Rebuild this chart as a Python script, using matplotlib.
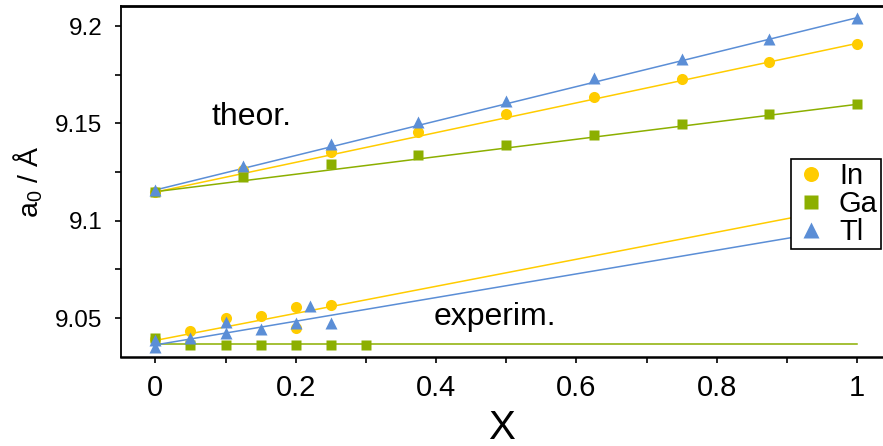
import numpy as np
import matplotlib
matplotlib.use("Agg")
import matplotlib.pyplot as plt
from matplotlib.ticker import MultipleLocator

plt.rcParams['font.family'] = ['Liberation Sans', 'DejaVu Sans']

# ---- data ----
x_theor = [0, 0.125, 0.25, 0.375, 0.5, 0.625, 0.75, 0.875, 1.0]
in_theor = [9.1147, 9.1260, 9.1354, 9.1454, 9.1546, 9.1637, 9.1726, 9.1817, 9.1909]
ga_theor = [9.1149, 9.1226, 9.1290, 9.1337, 9.1387, 9.1442, 9.1495, 9.1546, 9.1598]
tl_theor = [9.1158, 9.1282, 9.1392, 9.1505, 9.1615, 9.1731, 9.1829, 9.1932, 9.2044]

line_x = [0.0, 1.0]
in_theor_line = [9.1147, 9.1911]
ga_theor_line = [9.1149, 9.1598]
tl_theor_line = [9.1158, 9.2043]

in_exp_x = [0.0, 0.05, 0.1, 0.15, 0.2, 0.2, 0.25]
in_exp = [9.0390, 9.0433, 9.0498, 9.0509, 9.0558, 9.0447, 9.0565]
ga_exp_x = [0.0, 0.05, 0.1, 0.15, 0.2, 0.25, 0.3]
ga_exp = [9.0396, 9.0362, 9.0362, 9.0364, 9.0364, 9.0364, 9.0364]
tl_exp_x = [0.0, 0.0, 0.05, 0.1, 0.1, 0.15, 0.2, 0.22, 0.25]
tl_exp = [9.0387, 9.0353, 9.0396, 9.0481, 9.0421, 9.0443, 9.0473, 9.0563, 9.0473]

in_exp_line = [9.0385, 9.1080]
ga_exp_line = [9.0366, 9.0366]
tl_exp_line = [9.0362, 9.0970]

labels = ['In', 'Ga', 'Tl']
colors = ['#FFCC00', '#8CAF00', '#5B8ED6']
markers = ['o', 's', '^']
msizes = [8.0, 7.0, 8.5]

fig = plt.figure(figsize=(8.83, 4.46), dpi=100)
ax = fig.add_axes([0.137, 0.1996, 0.863, 0.7869])

theor_pts = [in_theor, ga_theor, tl_theor]
theor_lines = [in_theor_line, ga_theor_line, tl_theor_line]
exp_xs = [in_exp_x, ga_exp_x, tl_exp_x]
exp_pts = [in_exp, ga_exp, tl_exp]
exp_lines = [in_exp_line, ga_exp_line, tl_exp_line]

for i in range(3):
    ax.plot(line_x, theor_lines[i], color=colors[i], lw=1.1, zorder=2)
    ax.plot(line_x, exp_lines[i], color=colors[i], lw=1.1, zorder=2)
for i in range(3):
    ax.plot(x_theor, theor_pts[i], ls='none', marker=markers[i], ms=msizes[i],
            color=colors[i], mec='none', zorder=3 + i, label=labels[i])
    ax.plot(exp_xs[i], exp_pts[i], ls='none', marker=markers[i], ms=msizes[i],
            color=colors[i], mec='none', zorder=3 + i)

ax.set_xlim(-0.049, 1.037)
ax.set_ylim(9.030, 9.2103)
ax.set_xticks([0, 0.2, 0.4, 0.6, 0.8, 1.0])
ax.set_xticklabels(['0', '0.2', '0.4', '0.6', '0.8', '1'])
ax.set_yticks([9.05, 9.1, 9.15, 9.2])
ax.set_yticklabels(['9.05', '9.1', '9.15', '9.2'])
ax.xaxis.set_minor_locator(MultipleLocator(0.1))
ax.yaxis.set_minor_locator(MultipleLocator(0.025))
ax.tick_params(which='both', direction='out', length=4.5, width=1.2,
               top=False, right=False)
ax.tick_params(axis='y', labelsize=17.5, pad=9)
ax.tick_params(axis='x', labelsize=21, pad=8)

ax.spines['right'].set_visible(False)
ax.spines['left'].set_linewidth(1.3)
ax.spines['bottom'].set_linewidth(1.8)
ax.spines['top'].set_linewidth(2.0)

ax.set_xlabel('X', fontsize=29)
ax.xaxis.set_label_coords(0.5, -0.147)
ax.set_ylabel(r'a$_\mathregular{0}$ / Å', fontsize=20.5)
ax.yaxis.set_label_coords(-0.10, 0.5)

ax.text(0.080, 9.149, 'theor.', fontsize=23, ha='left', va='baseline')
ax.text(0.396, 9.0464, 'experim.', fontsize=23, ha='left', va='baseline')

leg = ax.legend(loc='upper right', bbox_to_anchor=(0.997, 0.564), fontsize=21,
                frameon=True, fancybox=False, edgecolor='black', framealpha=1,
                borderpad=0.1, labelspacing=0.0, handlelength=1.2,
                handletextpad=0.35, borderaxespad=0, markerscale=1.35)
leg.get_frame().set_linewidth(1.2)

fig.savefig('out.png', dpi=100)
